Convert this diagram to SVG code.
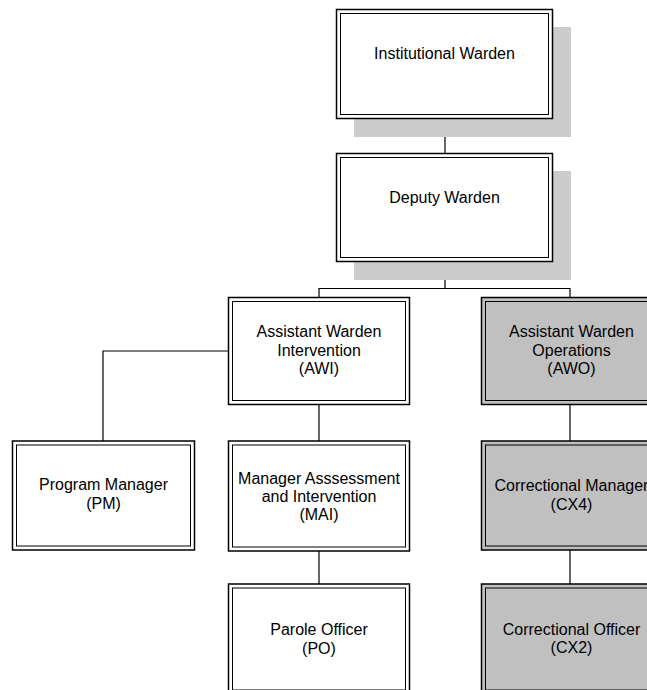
<svg xmlns="http://www.w3.org/2000/svg" width="647" height="690" viewBox="0 0 647 690">
<style>
.outer{stroke:#000;stroke-width:1.5;fill:#fff}
.inner{stroke:#000;stroke-width:1;fill:none}
.gray{fill:#c0c0c0}
.shadow{fill:#cccccc}
.conn{stroke:#000;stroke-width:1.2;fill:none}
text{font-family:"Liberation Sans",Arial,sans-serif;font-size:16px;fill:#000;text-anchor:middle}
</style>
<rect width="647" height="690" fill="#fff"/>
<g id="connectors">
<path class="conn" d="M445 118V153"/>
<path class="conn" d="M445 262V288.5M319 297V288.5H570V297"/>
<path class="conn" d="M228 351H103V441"/>
<path class="conn" d="M319 404V441M319 551V584"/>
<path class="conn" d="M570 404V441M570 550V584"/>
</g>
<g id="institutional-warden">
<rect class="shadow" x="354" y="27" width="217" height="110"/>
<rect class="outer" x="336.5" y="9.5" width="216" height="109"/>
<rect class="inner" x="340.5" y="13.5" width="208" height="101"/>
<text x="444.5" y="59">Institutional Warden</text>
</g>
<g id="deputy-warden">
<rect class="shadow" x="354" y="171" width="217" height="109"/>
<rect class="outer" x="336.5" y="153.5" width="216" height="108"/>
<rect class="inner" x="340.5" y="157.5" width="208" height="100"/>
<text x="444.5" y="203">Deputy Warden</text>
</g>
<g id="awi">
<rect class="outer" x="228.5" y="297.5" width="181" height="107"/>
<rect class="inner" x="232.5" y="301.5" width="173" height="99"/>
<text x="319" y="337">Assistant Warden</text>
<text x="319" y="355.5">Intervention</text>
<text x="319" y="374">(AWI)</text>
</g>
<g id="awo">
<rect class="outer gray" x="481.5" y="297.5" width="181" height="107"/>
<rect class="inner" x="485.5" y="301.5" width="173" height="99"/>
<text x="571.5" y="337">Assistant Warden</text>
<text x="571.5" y="355.5">Operations</text>
<text x="571.5" y="374">(AWO)</text>
</g>
<g id="pm">
<rect class="outer" x="12.5" y="441" width="182" height="109"/>
<rect class="inner" x="16.5" y="445" width="174" height="101"/>
<text x="103.5" y="490">Program Manager</text>
<text x="103.5" y="508.5">(PM)</text>
</g>
<g id="mai">
<rect class="outer" x="228.5" y="441" width="181" height="110"/>
<rect class="inner" x="232.5" y="445" width="173" height="102"/>
<text x="319" y="484">Manager Asssessment</text>
<text x="319" y="502">and Intervention</text>
<text x="319" y="520">(MAI)</text>
</g>
<g id="cx4">
<rect class="outer gray" x="481.5" y="441" width="181" height="109"/>
<rect class="inner" x="485.5" y="445" width="173" height="101"/>
<text x="571.5" y="491">Correctional Manager</text>
<text x="571.5" y="509.5">(CX4)</text>
</g>
<g id="po">
<rect class="outer" x="228.5" y="584" width="181" height="110"/>
<rect class="inner" x="232.5" y="588" width="173" height="102"/>
<text x="319" y="635">Parole Officer</text>
<text x="319" y="653.5">(PO)</text>
</g>
<g id="cx2">
<rect class="outer gray" x="481.5" y="584" width="181" height="110"/>
<rect class="inner" x="485.5" y="588" width="173" height="102"/>
<text x="571.5" y="634.5">Correctional Officer</text>
<text x="571.5" y="653">(CX2)</text>
</g>
</svg>
